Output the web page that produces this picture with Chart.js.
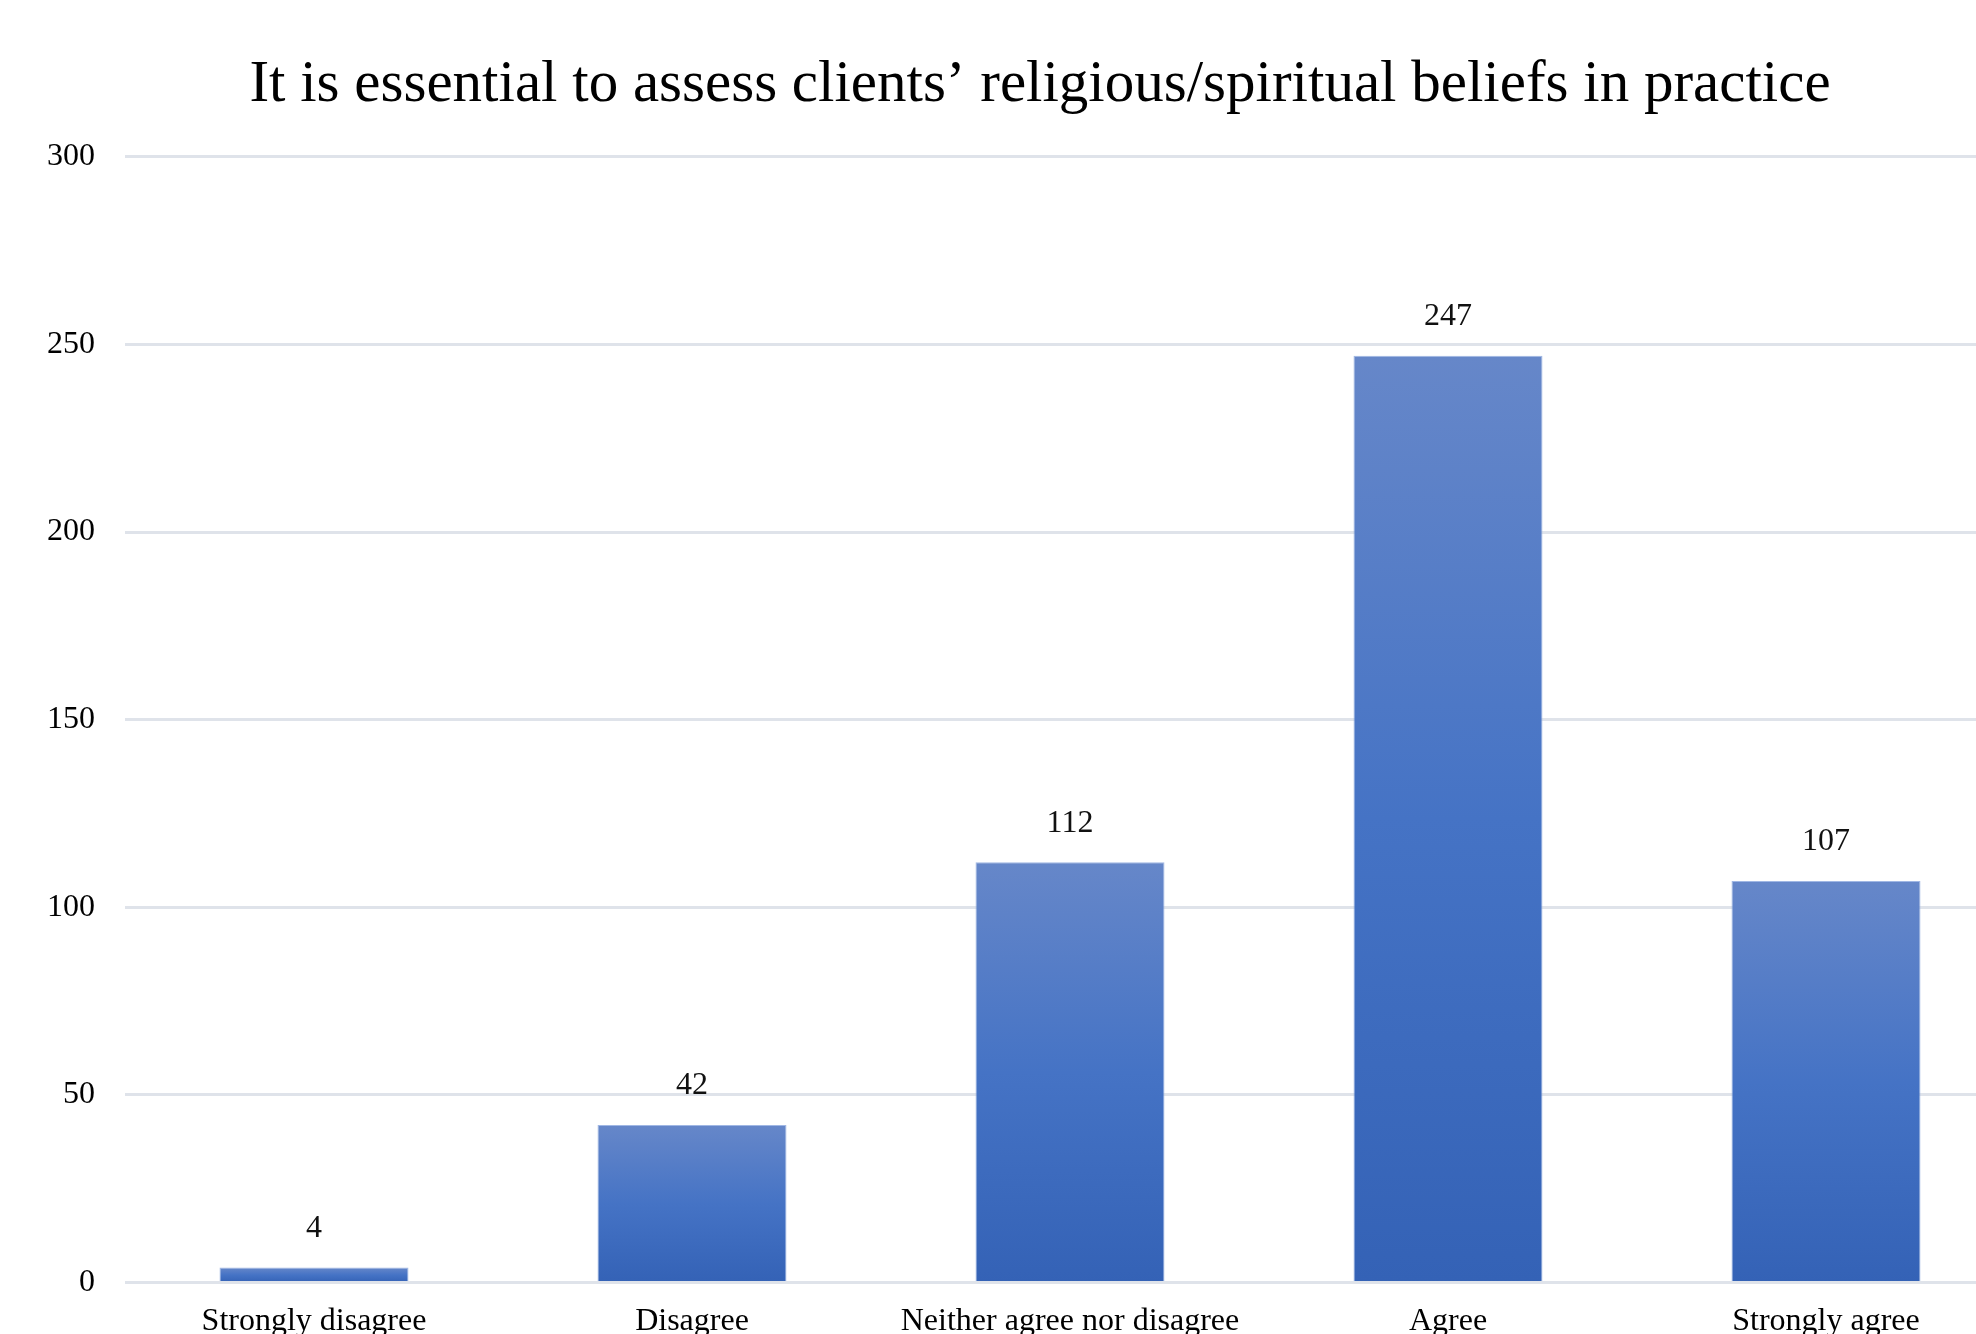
<!DOCTYPE html>
<html>
<head>
<meta charset="utf-8">
<title>Assess clients' religious/spiritual beliefs</title>
<script src="https://cdn.jsdelivr.net/npm/chart.js@4.4.1/dist/chart.umd.min.js"></script>
<style>
    html, body { margin: 0; padding: 0; background: #ffffff; overflow: hidden; }
    #wrap { width: 2015px; height: 1361px; }
    canvas { display: block; }
</style>
</head>
<body>
<div id="wrap"><canvas id="beliefsChart" width="2015" height="1361"></canvas></div>
<script>
// Survey responses
const chartTitle = 'It is essential to assess clients\u2019 religious/spiritual beliefs in practice';
const categories = ['Strongly disagree', 'Disagree', 'Neither agree nor disagree', 'Agree', 'Strongly agree'];
const responses = [4, 42, 112, 247, 107];
const yTicks = [0, 50, 100, 150, 200, 250, 300];

const FONT = '"Liberation Serif", "Times New Roman", serif';

// vertical gradient per bar, light at top, darker at the base
function barGradient(ctx) {
    const chart = ctx.chart;
    const { chartArea, scales } = chart;
    if (!chartArea || !scales.y || ctx.type !== 'data') return '#4472c4';
    const top = scales.y.getPixelForValue(ctx.raw);
    const base = scales.y.getPixelForValue(0);
    if (!isFinite(top) || !isFinite(base) || top === base) return '#4472c4';
    const g = chart.ctx.createLinearGradient(0, top, 0, base);
    g.addColorStop(0, '#6687c9');
    g.addColorStop(0.5, '#4573c5');
    g.addColorStop(1, '#3462b6');
    return g;
}

// value labels above each bar
const valueLabels = {
    id: 'valueLabels',
    afterDatasetsDraw(chart) {
        const { ctx } = chart;
        const meta = chart.getDatasetMeta(0);
        ctx.save();
        ctx.font = `32px ${FONT}`;
        ctx.fillStyle = '#111111';
        ctx.textAlign = 'center';
        ctx.textBaseline = 'middle';
        meta.data.forEach((bar, i) => {
            ctx.fillText(String(responses[i]), bar.x, bar.y - 39);
        });
        ctx.restore();
    }
};

// the title sits centred over the plot, not the whole canvas
const titleShift = {
    id: 'titleShift',
    afterLayout(chart) {
        if (chart.titleBlock) chart.titleBlock.left += 25;
    }
};

const chart = new Chart(document.getElementById('beliefsChart'), {
    type: 'bar',
    data: {
        labels: categories,
        datasets: [{
            label: 'Responses',
            data: responses,
            backgroundColor: barGradient,
            borderColor: 'rgba(150, 175, 225, 0.9)',
            borderWidth: 1,
            barPercentage: 0.5,
            categoryPercentage: 1.0
        }]
    },
    options: {
        responsive: false,
        animation: false,
        layout: { padding: { left: 40, right: 0, top: 0, bottom: 0 } },
        plugins: {
            legend: { display: false },
            tooltip: { enabled: false },
            title: {
                display: true,
                text: chartTitle,
                color: '#000000',
                font: { family: FONT, size: 59, weight: 'normal' },
                padding: { top: 50, bottom: 36 }
            }
        },
        scales: {
            x: {
                grid: { display: false, drawTicks: false },
                border: { display: false },
                ticks: {
                    color: '#000000',
                    font: { family: FONT, size: 32 },
                    padding: 20,
                    maxRotation: 0,
                    autoSkip: false
                }
            },
            y: {
                min: 0,
                max: 300,
                afterFit(scale) { scale.width = 85; },
                afterBuildTicks(scale) { scale.ticks = yTicks.map(v => ({ value: v })); },
                grid: { color: '#dfe3ea', lineWidth: 3, drawTicks: false },
                border: { display: false },
                ticks: {
                    color: '#000000',
                    font: { family: FONT, size: 32 },
                    padding: 30
                }
            }
        }
    },
    plugins: [valueLabels, titleShift]
});
</script>
</body>
</html>
